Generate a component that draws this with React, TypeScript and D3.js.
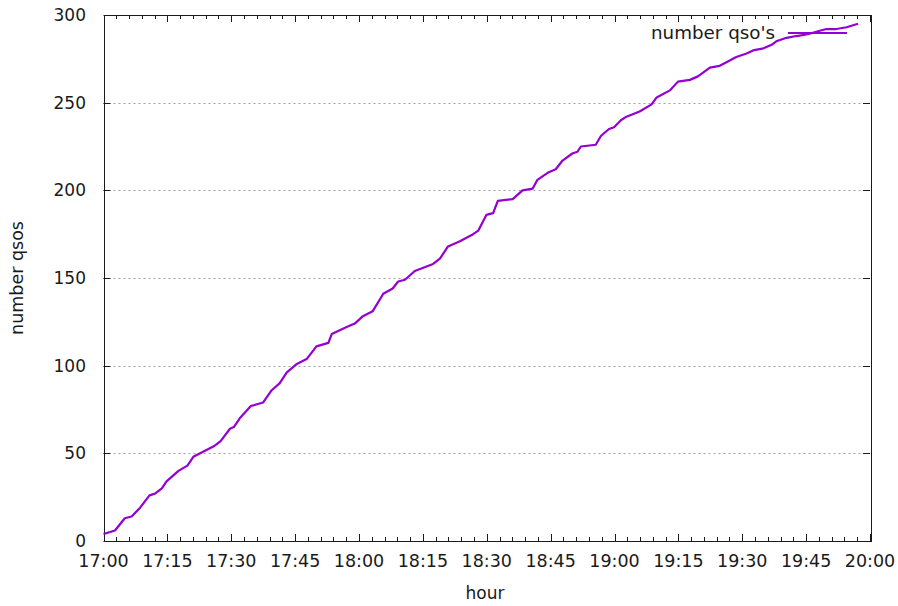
import React, { useEffect, useRef } from 'react';
import * as d3 from 'd3';

// minutes after 17:00 and the running qso count read at that moment
const minutesAfterStart = [
  0, 2.7, 5.0, 6.6, 8.6, 10.8, 12.1, 13.7, 14.8, 17.6, 19.7, 21.1, 22.7, 25.9, 27.5, 29.7,
  30.6, 32.0, 34.6, 37.5, 39.5, 41.4, 43.0, 45.4, 47.8, 50.0, 52.8, 53.6, 57.1, 59.0, 60.8,
  63.2, 65.7, 67.9, 69.2, 70.8, 73.1, 77.4, 79.0, 80.9, 83.7, 86.8, 88.0, 89.9, 91.5, 92.6,
  96.1, 98.4, 100.8, 101.9, 104.3, 106.2, 107.8, 110.1, 111.3, 112.1, 115.6, 116.8, 118.7,
  119.9, 121.5, 122.8, 125.9, 128.7, 129.9, 133.0, 134.9, 137.7, 139.6, 142.4, 144.7, 146.3,
  148.6, 151.0, 152.8, 155.0, 156.9, 158.0, 160.4, 162.7, 165.4, 168.2, 169.8, 172.1, 174.5,
  177.2,
];
const qsoCount = [
  4, 6, 13, 14, 19, 26, 27, 30, 34, 40, 43, 48, 50, 54, 57, 64,
  65, 70, 77, 79, 86, 90, 96, 101, 104, 111, 113, 118, 122, 124, 128,
  131, 141, 144, 148, 149, 154, 158, 161, 168, 171, 175, 177, 186, 187, 194,
  195, 200, 201, 206, 210, 212, 217, 221, 222, 225, 226, 231, 235,
  236, 240, 242, 245, 249, 253, 257, 262, 263, 265, 270, 271, 273,
  276, 278, 280, 281, 283, 285, 287, 288, 289, 291, 292, 292, 293,
  295,
];
const yTicks = [0, 50, 100, 150, 200, 250, 300];
const seriesLabel = "number qso's";

const App: React.FC = () => {
  const svgRef = useRef<SVGSVGElement>(null);

  useEffect(() => {
    if (!svgRef.current) return;
    const svg = d3.select(svgRef.current);
    svg.selectAll('*').remove();

    const left = 103.5, right = 870, top = 15, bottom = 541;
    const font = 'DejaVu Sans, sans-serif';
    const ink = '#1a1a1a';

    const start = new Date(2020, 0, 1, 17, 0, 0);
    const end = new Date(2020, 0, 1, 20, 0, 0);
    const x = d3.scaleTime().domain([start, end]).range([left, right]);
    const y = d3.scaleLinear().domain([0, 300]).range([bottom, top]);

    const data = minutesAfterStart.map((m, i) => ({
      t: new Date(start.getTime() + m * 60000),
      v: qsoCount[i],
    }));

    // dotted grid
    svg.append('g')
      .selectAll('line')
      .data(yTicks.filter(d => d > 0 && d < 300))
      .enter()
      .append('line')
      .attr('x1', left).attr('x2', right)
      .attr('y1', d => Math.round(y(d)) + 0.5).attr('y2', d => Math.round(y(d)) + 0.5)
      .attr('stroke', '#a0a0a0')
      .attr('stroke-width', 1)
      .attr('stroke-dasharray', '2,3');

    // ticks
    const ticks = svg.append('g').attr('stroke', ink).attr('stroke-width', 1);
    const major = x.ticks(d3.timeMinute.every(15)!);
    const minor = x.ticks(d3.timeMinute.every(3)!).filter(d => d.getMinutes() % 15 !== 0);
    major.forEach(d => {
      const px = Math.round(x(d)) + 0.5;
      ticks.append('line').attr('x1', px).attr('x2', px).attr('y1', bottom).attr('y2', bottom - 7);
      ticks.append('line').attr('x1', px).attr('x2', px).attr('y1', top).attr('y2', top + 7);
    });
    minor.forEach(d => {
      const px = Math.round(x(d)) + 0.5;
      ticks.append('line').attr('x1', px).attr('x2', px).attr('y1', bottom).attr('y2', bottom - 4);
      ticks.append('line').attr('x1', px).attr('x2', px).attr('y1', top).attr('y2', top + 4);
    });
    yTicks.forEach(d => {
      const py = Math.round(y(d)) + 0.5;
      ticks.append('line').attr('x1', left).attr('x2', left + 7).attr('y1', py).attr('y2', py);
      ticks.append('line').attr('x1', right).attr('x2', right - 7).attr('y1', py).attr('y2', py);
    });

    // frame
    svg.append('rect')
      .attr('x', Math.round(left) + 0.5).attr('y', top + 0.5)
      .attr('width', Math.round(right - left)).attr('height', bottom - top)
      .attr('fill', 'none').attr('stroke', ink).attr('stroke-width', 1);

    // tick labels
    svg.append('g')
      .selectAll('text')
      .data(yTicks)
      .enter()
      .append('text')
      .attr('x', 86)
      .attr('y', d => y(d) + 6)
      .attr('text-anchor', 'end')
      .attr('font-family', font).attr('font-size', 17).attr('fill', ink)
      .text(d => d);

    const fmt = d3.timeFormat('%H:%M');
    svg.append('g')
      .selectAll('text')
      .data(major)
      .enter()
      .append('text')
      .attr('x', d => x(d))
      .attr('y', 567)
      .attr('text-anchor', 'middle')
      .attr('font-family', font).attr('font-size', 17.5).attr('fill', ink)
      .text(d => fmt(d));

    // axis titles
    svg.append('text')
      .attr('x', 485).attr('y', 599)
      .attr('text-anchor', 'middle')
      .attr('font-family', font).attr('font-size', 17).attr('fill', ink)
      .text('hour');
    svg.append('text')
      .attr('transform', 'translate(23,278) rotate(-90)')
      .attr('text-anchor', 'middle')
      .attr('font-family', font).attr('font-size', 17.5).attr('fill', ink)
      .text('number qsos');

    // series
    const line = d3.line<{ t: Date; v: number }>()
      .x(d => x(d.t))
      .y(d => y(d.v))
      .curve(d3.curveLinear);
    svg.append('path')
      .datum(data)
      .attr('d', line)
      .attr('fill', 'none')
      .attr('stroke', '#9400d3')
      .attr('stroke-width', 2.2)
      .attr('stroke-linejoin', 'round');

    // legend
    svg.append('text')
      .attr('x', 775).attr('y', 39)
      .attr('text-anchor', 'end')
      .attr('font-family', font).attr('font-size', 18.3).attr('fill', ink)
      .text(seriesLabel);
    svg.append('line')
      .attr('x1', 788).attr('x2', 847).attr('y1', 33).attr('y2', 33)
      .attr('stroke', '#9400d3').attr('stroke-width', 2.2);
  }, []);

  return (
    <svg
      ref={svgRef}
      width={898}
      height={606}
      style={{ position: 'fixed', left: 0, top: 0, background: '#fff' }}
    />
  );
};

export default App;
